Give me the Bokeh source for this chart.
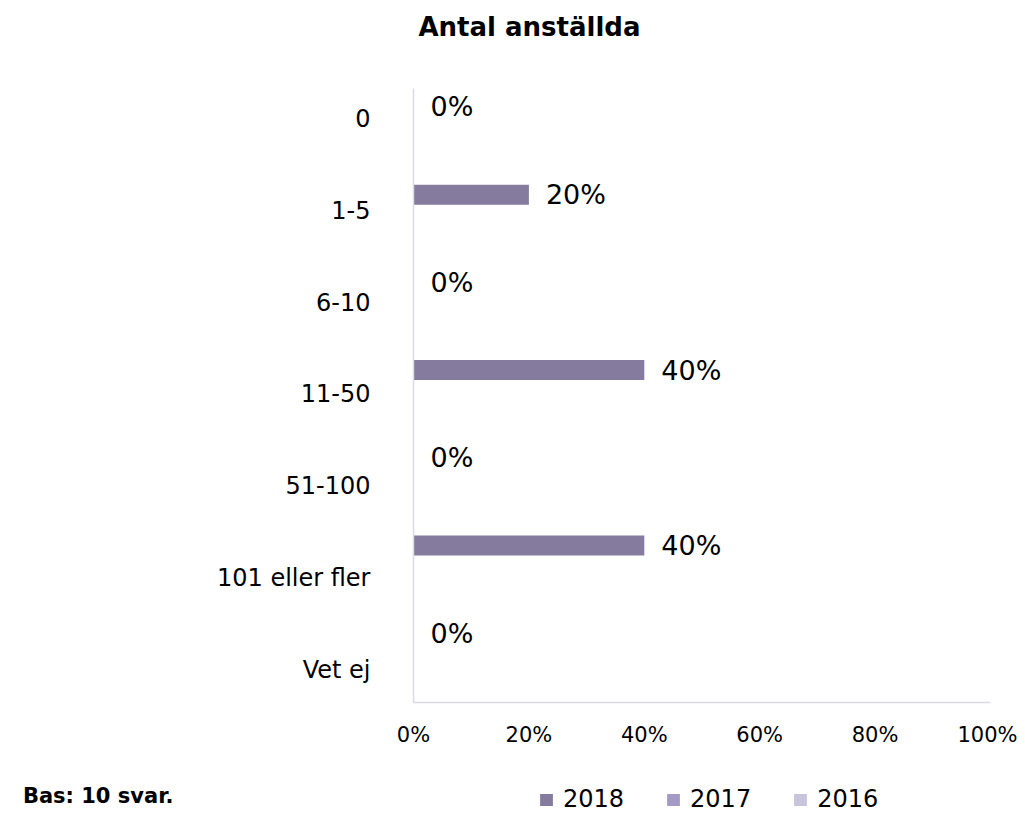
import numpy as np
from bokeh.plotting import figure
from bokeh.layouts import column
from bokeh.models import (ColumnDataSource, Range1d, FixedTicker, PrintfTickFormatter,
                          Legend, LegendItem, Label)
from bokeh.transform import dodge
from bokeh.core.properties import value
from bokeh.embed import file_html
from bokeh.resources import INLINE

# ---- data ----
categories = ["0", "1-5", "6-10", "11-50", "51-100", "101 eller fler", "Vet ej"]
v2018 = [0, 20, 0, 40, 0, 40, 0]
v2017 = [np.nan, np.nan, np.nan, np.nan, np.nan, np.nan, np.nan]
v2016 = [np.nan, np.nan, np.nan, np.nan, np.nan, np.nan, np.nan]
series_names = ["2018", "2017", "2016"]
x_ticks = [0, 20, 40, 60, 80, 100]
title_text = "Antal anställda"
base_text = "Bas: 10 svar."

colors = ["#847B9E", "#A39BC5", "#C8C4DC"]
FONT = "DejaVu Sans"
W = 1017
TOP_H = 88
BOT_H = 36
FRAME_L, FRAME_R = 413, 990

# ---- title strip (its frame lines up with the chart's frame) ----
ft = figure(width=W, height=TOP_H, output_backend="svg", toolbar_location=None,
            x_range=Range1d(FRAME_L, FRAME_R), y_range=Range1d(TOP_H, 0),
            x_axis_type=None, y_axis_type=None, min_border=0)
ft.outline_line_color = None
ft.xgrid.visible = False
ft.ygrid.visible = False
ft.add_layout(Label(x=529, y=26, text=title_text, text_font=FONT, text_font_size="26px",
                    text_font_style="bold", text_align="center", text_baseline="middle",
                    text_color="#000000"))

# ---- main chart ----
n = len(categories)
ypos = np.arange(n) + 0.5
src = ColumnDataSource(dict(
    y=ypos,
    cat=categories,
    v2018=v2018, v2017=v2017, v2016=v2016,
    lbl2018=[f"{v:.0f}%" for v in v2018],
))

p = figure(frame_width=FRAME_R - FRAME_L, frame_height=614, output_backend="svg",
           toolbar_location=None, x_range=Range1d(0, 100), y_range=Range1d(n, 0),
           min_border_left=FRAME_L, min_border_right=27, min_border_top=0, min_border_bottom=75)
p.outline_line_color = None
p.xgrid.visible = False
p.ygrid.visible = False

bar_h = 0.228
p.hbar(y=dodge("y", -0.29, range=p.y_range), left=0, right="v2018", height=bar_h,
       source=src, fill_color=colors[0], line_color=None)
p.hbar(y=dodge("y", -0.29 + bar_h, range=p.y_range), left=0, right="v2017", height=bar_h,
       source=src, fill_color=colors[1], line_color=None)
p.hbar(y=dodge("y", -0.29 + 2 * bar_h, range=p.y_range), left=0, right="v2016", height=bar_h,
       source=src, fill_color=colors[2], line_color=None)

p.text(x="v2018", y=dodge("y", -0.29, range=p.y_range), text="lbl2018", source=src,
       x_offset=17, text_baseline="middle", text_align="left",
       text_font=value(FONT), text_font_size="27px", text_color="#000000")

xa = p.xaxis[0]
xa.ticker = FixedTicker(ticks=x_ticks)
xa.formatter = PrintfTickFormatter(format="%d%%")
xa.major_tick_line_color = None
xa.minor_tick_line_color = None
xa.major_tick_in = 0
xa.major_tick_out = 0
xa.axis_line_color = "#D9DCE3"
xa.axis_line_width = 1.5
xa.major_label_text_font = FONT
xa.major_label_text_font_size = "21px"
xa.major_label_text_color = "#000000"
xa.major_label_standoff = 20

# category labels sit on a slightly wider spacing than the bands, as in the original
ya = p.yaxis[0]
label_pos = [round(i * 1.046 + 0.35, 4) for i in range(n)]
ya.ticker = FixedTicker(ticks=label_pos)
ya.major_label_overrides = {lp: c for lp, c in zip(label_pos, categories)}
ya.major_tick_line_color = None
ya.minor_tick_line_color = None
ya.major_tick_in = 0
ya.major_tick_out = 0
ya.axis_line_color = "#D9DCE3"
ya.axis_line_width = 1.5
ya.major_label_text_font = FONT
ya.major_label_text_font_size = "24px"
ya.major_label_text_color = "#000000"
ya.major_label_standoff = 43

# ---- bottom strip: legend (in the frame) + base note (as the left axis label) ----
fb = figure(width=W, height=BOT_H, output_backend="svg", toolbar_location=None,
            x_range=Range1d(0, 100), y_range=Range1d(0, 1), x_axis_type=None,
            min_border_left=FRAME_L, min_border_right=27, min_border_top=0, min_border_bottom=0)
fb.outline_line_color = None
fb.xgrid.visible = False
fb.ygrid.visible = False
leg_src = ColumnDataSource(dict(x=[np.nan] * len(series_names), y=[np.nan] * len(series_names),
                                name=series_names, color=colors))
leg_r = fb.rect(x="x", y="y", width=1, height=1, source=leg_src,
                fill_color="color", line_color=None)
legend = Legend(items=[LegendItem(label=s, renderers=[leg_r], index=i)
                       for i, s in enumerate(series_names)],
                orientation="horizontal", location=(538 - FRAME_L, 0),
                glyph_width=16, glyph_height=15, label_standoff=9, spacing=41,
                label_text_font=FONT, label_text_font_size="24px", label_text_color="#000000",
                border_line_color=None, background_fill_alpha=0, padding=0, margin=0)
fb.add_layout(legend)

yb = fb.yaxis[0]
yb.ticker = FixedTicker(ticks=[])
yb.axis_line_color = None
yb.major_tick_line_color = None
yb.minor_tick_line_color = None
yb.major_tick_in = 0
yb.major_tick_out = 0
yb.minor_tick_in = 0
yb.minor_tick_out = 0
yb.axis_label = base_text
yb.axis_label_orientation = "horizontal"
yb.axis_label_text_font = FONT
yb.axis_label_text_font_size = "21px"
yb.axis_label_text_font_style = "bold"
yb.axis_label_text_color = "#000000"
yb.axis_label_standoff = 240

layout = column(ft, p, fb, spacing=0)
open("out.html", "w").write(file_html(layout, INLINE))
